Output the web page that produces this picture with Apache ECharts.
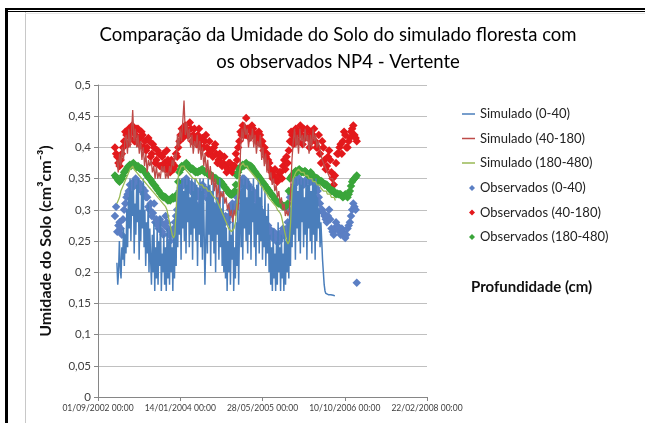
<!DOCTYPE html>
<html>
<head>
<meta charset="utf-8">
<script src="https://cdn.jsdelivr.net/npm/echarts@6/dist/echarts.min.js"></script>
<style>
  html, body { margin: 0; padding: 0; background: #fff; }
  #chart { width: 645px; height: 423px; }
</style>
</head>
<body>
<div id="chart"></div>
<script>
// datas em número serial (dias, estilo Excel): 37500 = 01/09/2002
const sim0040Start = 37615
const sim0040Step = 5
const simStart = 37615
const simStep = 8
const obsStart = 37603
const obsStep = 7

// simulado (modelo)
const sim0040 = [
  0.215, 0.18, 0.2, 0.25, 0.21, 0.19, 0.24, 0.22, 0.27, 0.21, 0.26, 0.23,
  0.3, 0.24, 0.32, 0.27, 0.35, 0.25, 0.33, 0.29, 0.35, 0.23, 0.31, 0.26, 0.34, 0.28, 0.35,
  0.22, 0.3, 0.25, 0.33, 0.27, 0.35, 0.24, 0.3, 0.21, 0.28, 0.23, 0.31, 0.2, 0.27,
  0.22, 0.18, 0.26, 0.2, 0.28, 0.17, 0.24, 0.19, 0.27, 0.18, 0.25, 0.21, 0.29, 0.17, 0.23, 0.2,
  0.26, 0.18, 0.24, 0.17, 0.27, 0.19, 0.25, 0.18, 0.28, 0.2, 0.24, 0.17, 0.26, 0.19, 0.29, 0.21,
  0.33, 0.24, 0.35, 0.26, 0.34, 0.22, 0.35, 0.27, 0.33, 0.25, 0.35, 0.23, 0.34, 0.28, 0.35, 0.24, 0.32, 0.26, 0.35, 0.22,
  0.33, 0.27, 0.35, 0.25, 0.34, 0.21, 0.31, 0.26, 0.35, 0.24, 0.33, 0.22, 0.35, 0.27, 0.18, 0.25, 0.32, 0.23, 0.35, 0.26,
  0.34, 0.21, 0.33, 0.25, 0.35, 0.23, 0.31, 0.2, 0.34, 0.26, 0.32, 0.22, 0.35, 0.24, 0.3, 0.21, 0.33, 0.2,
  0.29, 0.19, 0.27, 0.17, 0.25, 0.2, 0.3, 0.18, 0.26, 0.22, 0.31, 0.17, 0.24, 0.19, 0.28, 0.21, 0.32, 0.18, 0.27,
  0.33, 0.24, 0.35, 0.22, 0.34, 0.27, 0.35, 0.25, 0.32, 0.23, 0.35, 0.26, 0.34, 0.22, 0.33, 0.28, 0.35, 0.24, 0.31, 0.21,
  0.34, 0.26, 0.35, 0.23, 0.32, 0.25, 0.34, 0.22, 0.3, 0.24, 0.33, 0.21, 0.29, 0.23, 0.31, 0.2,
  0.26, 0.18, 0.24, 0.17, 0.27, 0.19, 0.23, 0.17, 0.25, 0.18, 0.28, 0.2, 0.24, 0.17, 0.26, 0.19, 0.23, 0.17,
  0.27, 0.18, 0.25, 0.2, 0.28, 0.19, 0.3, 0.21, 0.32,
  0.24, 0.35, 0.26, 0.34, 0.22, 0.35, 0.27, 0.33, 0.25, 0.35, 0.23, 0.34, 0.28, 0.35, 0.24, 0.32, 0.26, 0.35, 0.22, 0.34,
  0.27, 0.35, 0.25, 0.33, 0.23, 0.35, 0.26, 0.34, 0.22, 0.35, 0.25, 0.32, 0.27, 0.3, 0.24,
  0.28, 0.25, 0.22, 0.2, 0.18, 0.17, 0.166, 0.165, 0.164, 0.164, 0.163, 0.163, 0.164, 0.163, 0.162, 0.163, 0.163, 0.162
]
const sim40180 = [
  0.38, 0.36, 0.39, 0.37, 0.4, 0.38, 0.41,
  0.42, 0.39, 0.43, 0.4, 0.42, 0.46, 0.41, 0.43, 0.4, 0.42, 0.39, 0.41, 0.38, 0.4, 0.37, 0.39, 0.36, 0.38, 0.37,
  0.38, 0.36, 0.37, 0.35, 0.37, 0.35, 0.36, 0.35, 0.37, 0.36, 0.37, 0.35, 0.36, 0.35, 0.37, 0.36, 0.38, 0.37, 0.39, 0.38,
  0.42, 0.4, 0.43, 0.41, 0.44, 0.475, 0.42, 0.44, 0.41, 0.43, 0.4, 0.42, 0.39, 0.41, 0.4, 0.42, 0.39, 0.41,
  0.38, 0.4, 0.37, 0.39, 0.36, 0.38, 0.35, 0.37, 0.34, 0.36, 0.33, 0.35, 0.32, 0.34, 0.31, 0.33, 0.32, 0.33, 0.31,
  0.32, 0.3, 0.31, 0.29, 0.3, 0.28, 0.3, 0.29, 0.31, 0.3, 0.33,
  0.4, 0.43, 0.41, 0.44, 0.42, 0.43, 0.4, 0.42, 0.41, 0.43, 0.4, 0.42, 0.39, 0.41, 0.4, 0.42, 0.38, 0.4, 0.37, 0.39, 0.36, 0.38, 0.35,
  0.36, 0.34, 0.35, 0.33, 0.34, 0.32, 0.33, 0.31, 0.32, 0.3, 0.31, 0.29, 0.3, 0.29, 0.3, 0.33, 0.38,
  0.41, 0.43, 0.4, 0.42, 0.39, 0.43, 0.41, 0.42, 0.4, 0.43, 0.41, 0.42, 0.39, 0.42, 0.4, 0.43, 0.41, 0.42, 0.4, 0.41, 0.4,
  0.39, 0.38, 0.38, 0.37, 0.37, 0.36, 0.36, 0.35, 0.35, 0.35, 0.34, 0.34
]
const sim180480 = [
  0.31, 0.315, 0.32, 0.33, 0.335, 0.34, 0.345,
  0.35, 0.355, 0.36, 0.365, 0.365, 0.37, 0.365, 0.365, 0.36, 0.36, 0.355, 0.355, 0.35, 0.35, 0.345, 0.345, 0.34, 0.34, 0.335,
  0.335, 0.33, 0.33, 0.325, 0.325, 0.32, 0.32, 0.315, 0.315, 0.31, 0.31, 0.305, 0.3, 0.29, 0.28, 0.27, 0.26, 0.255, 0.26, 0.3,
  0.34, 0.36, 0.365, 0.37, 0.37, 0.37, 0.365, 0.365, 0.36, 0.36, 0.355, 0.355, 0.35, 0.35, 0.35, 0.345, 0.345, 0.34,
  0.34, 0.34, 0.335, 0.335, 0.335, 0.33, 0.33, 0.33, 0.325, 0.325, 0.32, 0.32, 0.315, 0.31, 0.305, 0.3, 0.295, 0.29, 0.285,
  0.28, 0.275, 0.27, 0.27, 0.265, 0.265, 0.27, 0.28, 0.3, 0.33, 0.36,
  0.37, 0.37, 0.375, 0.37, 0.37, 0.37, 0.365, 0.365, 0.36, 0.36, 0.355, 0.355, 0.35, 0.35, 0.345, 0.34, 0.34, 0.335, 0.33, 0.33, 0.325, 0.32, 0.32,
  0.315, 0.315, 0.31, 0.31, 0.305, 0.3, 0.3, 0.295, 0.29, 0.28, 0.27, 0.26, 0.25, 0.245, 0.25, 0.28, 0.33,
  0.35, 0.355, 0.36, 0.36, 0.365, 0.365, 0.36, 0.36, 0.36, 0.355, 0.355, 0.355, 0.35, 0.35, 0.35, 0.345, 0.345, 0.345, 0.34, 0.34, 0.34,
  0.335, 0.335, 0.33, 0.33, 0.33, 0.325, 0.325, 0.325, 0.32, 0.32, 0.32, 0.315
]

// observados
const obs0040 = [
  0.29, 0.305, 0.265, 0.275, 0.28, 0.27, 0.26, 0.285,
  0.3, 0.31, 0.32, 0.325, 0.33, 0.34, 0.34, 0.335, 0.345, 0.34, 0.35, 0.34, 0.345, 0.335, 0.34, 0.33, 0.335, 0.325, 0.33, 0.32,
  0.32, 0.305, 0.3, 0.31, 0.29, 0.295, 0.31, 0.28, 0.285, 0.275, 0.27, 0.285,
  0.28, 0.265, 0.26, 0.275, 0.29, 0.28, 0.27, 0.26, 0.25, 0.265, 0.26, 0.27, 0.28, 0.29, 0.3, 0.315,
  0.33, 0.335, 0.34, 0.345, 0.345, 0.34, 0.35, 0.345, 0.34, 0.335, 0.33, 0.34, 0.335, 0.325, 0.32, 0.33, 0.33, 0.32, 0.31, 0.33,
  0.34, 0.33, 0.335, 0.32, 0.33, 0.325, 0.32, 0.31, 0.31, 0.305, 0.3, 0.295, 0.29, 0.3, 0.3, 0.285, 0.28, 0.275,
  0.27, 0.28, 0.29, 0.285, 0.28, 0.29, 0.3, 0.305, 0.31, 0.3, 0.3, 0.31, 0.32, 0.325,
  0.33, 0.34, 0.345, 0.35, 0.35, 0.345, 0.345, 0.34, 0.34, 0.335, 0.335, 0.33, 0.33, 0.325, 0.32, 0.315, 0.31, 0.305, 0.3, 0.295, 0.29, 0.285, 0.28, 0.275, 0.27, 0.275,
  0.27, 0.265, 0.26, 0.255, 0.265, 0.26, 0.25, 0.255, 0.26, 0.25, 0.255, 0.265, 0.27, 0.265, 0.26, 0.27, 0.28, 0.3,
  0.32, 0.325, 0.33, 0.335, 0.34, 0.345, 0.345, 0.35, 0.35, 0.345, 0.345, 0.34, 0.34, 0.345, 0.345, 0.35, 0.35, 0.345, 0.345, 0.35, 0.35, 0.345, 0.34, 0.335,
  0.33, 0.32, 0.31, 0.3, 0.3, 0.295, 0.29, 0.285, 0.28, 0.29, 0.3, 0.285, 0.27, 0.265, 0.26, 0.27, 0.28, 0.275, 0.27, 0.265,
  0.26, 0.27, 0.265, 0.26, 0.255, 0.26, 0.27, 0.275, 0.28, 0.29, 0.3, 0.31, 0.305, 0.3, 0.183
]
const obs40180 = [
  0.4, 0.39, 0.385, 0.375, 0.37, 0.38, 0.39, 0.4,
  0.41, 0.425, 0.42, 0.405, 0.43, 0.415, 0.425, 0.435, 0.43, 0.41, 0.42, 0.43, 0.43, 0.405, 0.415, 0.425, 0.42, 0.4, 0.41, 0.395,
  0.4, 0.415, 0.41, 0.385, 0.39, 0.405, 0.4, 0.375, 0.38, 0.395, 0.39, 0.37,
  0.37, 0.385, 0.39, 0.375, 0.365, 0.395, 0.38, 0.37, 0.36, 0.38, 0.375, 0.365, 0.37, 0.39, 0.385, 0.4,
  0.41, 0.42, 0.43, 0.415, 0.425, 0.435, 0.43, 0.42, 0.42, 0.44, 0.43, 0.41, 0.42, 0.43, 0.415, 0.405, 0.42, 0.43, 0.41, 0.4,
  0.415, 0.4, 0.41, 0.42, 0.4, 0.39, 0.41, 0.395, 0.395, 0.385, 0.4, 0.405, 0.39, 0.375, 0.38, 0.39, 0.385, 0.37,
  0.375, 0.385, 0.37, 0.36, 0.365, 0.375, 0.375, 0.365, 0.36, 0.37, 0.37, 0.39, 0.38, 0.4,
  0.41, 0.425, 0.42, 0.435, 0.43, 0.42, 0.447, 0.43, 0.43, 0.415, 0.425, 0.435, 0.43, 0.42, 0.42, 0.41, 0.415, 0.425, 0.42, 0.405, 0.41, 0.395, 0.4, 0.385, 0.39, 0.38,
  0.375, 0.365, 0.36, 0.35, 0.355, 0.365, 0.35, 0.345, 0.355, 0.36, 0.36, 0.35, 0.37, 0.38, 0.365, 0.385, 0.375, 0.395,
  0.41, 0.425, 0.42, 0.405, 0.415, 0.43, 0.42, 0.41, 0.425, 0.435, 0.42, 0.405, 0.43, 0.415, 0.42, 0.43, 0.415, 0.4, 0.425, 0.41, 0.42, 0.43, 0.41, 0.4,
  0.4, 0.42, 0.39, 0.375, 0.41, 0.4, 0.38, 0.365, 0.37, 0.385, 0.395, 0.38, 0.36, 0.35, 0.34, 0.355, 0.375, 0.39, 0.39, 0.4,
  0.405, 0.39, 0.41, 0.425, 0.42, 0.4, 0.4, 0.41, 0.415, 0.425, 0.43, 0.435, 0.42, 0.415, 0.41
]
const obs180480 = [
  0.355, 0.352, 0.35, 0.347, 0.345, 0.348, 0.35, 0.355,
  0.36, 0.362, 0.365, 0.368, 0.37, 0.372, 0.37, 0.373, 0.375, 0.372, 0.37, 0.368, 0.37, 0.367, 0.365, 0.366, 0.365, 0.362, 0.36, 0.358,
  0.355, 0.352, 0.35, 0.348, 0.345, 0.342, 0.34, 0.338, 0.335, 0.332, 0.33, 0.327,
  0.325, 0.322, 0.32, 0.321, 0.32, 0.317, 0.315, 0.316, 0.315, 0.318, 0.32, 0.318, 0.32, 0.322, 0.325, 0.345,
  0.36, 0.365, 0.37, 0.368, 0.37, 0.373, 0.375, 0.372, 0.37, 0.367, 0.365, 0.366, 0.365, 0.362, 0.36, 0.361, 0.36, 0.362, 0.362, 0.364,
  0.365, 0.362, 0.36, 0.361, 0.36, 0.357, 0.355, 0.356, 0.355, 0.352, 0.35, 0.351, 0.35, 0.347, 0.345, 0.346, 0.345, 0.342,
  0.34, 0.337, 0.335, 0.332, 0.33, 0.327, 0.325, 0.324, 0.325, 0.327, 0.33, 0.34, 0.355, 0.36,
  0.365, 0.368, 0.37, 0.372, 0.37, 0.373, 0.375, 0.372, 0.37, 0.371, 0.37, 0.368, 0.365, 0.362, 0.36, 0.357, 0.355, 0.352, 0.35, 0.347, 0.345, 0.342, 0.34, 0.337, 0.335, 0.332,
  0.33, 0.327, 0.325, 0.322, 0.32, 0.317, 0.315, 0.312, 0.31, 0.311, 0.31, 0.307, 0.305, 0.306, 0.305, 0.307, 0.31, 0.33,
  0.35, 0.352, 0.355, 0.357, 0.36, 0.362, 0.36, 0.363, 0.365, 0.363, 0.36, 0.361, 0.36, 0.362, 0.36, 0.358, 0.355, 0.357, 0.36, 0.357, 0.355, 0.352, 0.35, 0.351,
  0.35, 0.347, 0.345, 0.346, 0.345, 0.342, 0.34, 0.341, 0.34, 0.337, 0.335, 0.332, 0.33, 0.331, 0.33, 0.327, 0.325, 0.326, 0.325, 0.325,
  0.325, 0.322, 0.32, 0.322, 0.325, 0.322, 0.32, 0.325, 0.33, 0.338, 0.345, 0.348, 0.35, 0.352, 0.355
]

// eixos
const xTicks = [37500, 38000, 38500, 39000, 39500]
const yTicks = [0, 0.05, 0.1, 0.15, 0.2, 0.25, 0.3, 0.35, 0.4, 0.45, 0.5]

const toPairs = (start, step, values) => values.map((v, i) => [start + i * step, v])

const serialToLabel = (serial) => {
  const d = new Date(Date.UTC(1899, 11, 30) + Math.round(serial) * 86400000)
  const pad = (n) => String(n).padStart(2, '0')
  return `${pad(d.getUTCDate())}/${pad(d.getUTCMonth() + 1)}/${d.getUTCFullYear()} 00:00`
}

const chart = echarts.init(document.getElementById('chart'))

const font = 'Lato, "Liberation Sans", sans-serif'
const legendText = { fontFamily: font, fontSize: 13, color: '#222', lineHeight: 14 }

const option = {
  animation: false,
  backgroundColor: '#fff',
  title: {
    text: 'Comparação da Umidade do Solo do simulado floresta com\nos observados NP4 - Vertente',
    left: 333,
    top: 17,
    textAlign: 'center',
    textStyle: {
      fontFamily: font,
      fontSize: 18.5,
      fontWeight: 'normal',
      color: '#000',
      lineHeight: 27
    }
  },
  legend: [
    {
      data: ['Simulado (0-40)', 'Simulado (40-180)', 'Simulado (180-480)'],
      orient: 'vertical',
      left: 457,
      top: 102,
      icon: 'rect',
      itemWidth: 13,
      itemHeight: 1.5,
      itemGap: 10.5,
      selectedMode: false,
      textStyle: legendText
    },
    {
      data: ['Observados (0-40)', 'Observados (40-180)', 'Observados (180-480)'],
      orient: 'vertical',
      left: 464,
      top: 176,
      icon: 'diamond',
      itemWidth: 6,
      itemHeight: 6,
      itemGap: 10.5,
      selectedMode: false,
      textStyle: legendText
    }
  ],
  grid: {
    left: 98,
    right: 218,
    top: 85,
    bottom: 26
  },
  xAxis: {
    type: 'value',
    min: xTicks[0],
    max: xTicks[xTicks.length - 1],
    interval: 500,
    axisLine: { lineStyle: { color: '#868686' } },
    axisTick: { show: true, length: 4, lineStyle: { color: '#868686' } },
    splitLine: { show: false },
    axisLabel: {
      fontFamily: font,
      fontSize: 8.5,
      color: '#404040',
      margin: 7,
      formatter: (v) => serialToLabel(v)
    }
  },
  yAxis: {
    type: 'value',
    min: yTicks[0],
    max: yTicks[yTicks.length - 1],
    interval: 0.05,
    name: 'Umidade do Solo (cm³cm⁻³)',
    nameLocation: 'middle',
    nameGap: 44,
    nameTextStyle: { fontFamily: font, fontSize: 16, fontWeight: 'bold', color: '#111' },
    axisLine: { show: true, lineStyle: { color: '#868686' } },
    axisTick: { show: true, length: 4, lineStyle: { color: '#868686' } },
    splitLine: { lineStyle: { color: '#c0c0c0' } },
    axisLabel: {
      fontFamily: font,
      fontSize: 11.5,
      color: '#404040',
      margin: 7,
      formatter: (v) => String(+v.toFixed(2)).replace('.', ',')
    }
  },
  graphic: [
    { type: 'rect', silent: true, shape: { x: 5, y: 8, width: 3, height: 415 }, style: { fill: '#000' } },
    { type: 'rect', silent: true, shape: { x: 5, y: 8, width: 640, height: 2 }, style: { fill: '#000' } },
    { type: 'rect', silent: true, shape: { x: 8, y: 11, width: 637, height: 1 }, style: { fill: '#000' } },
    { type: 'rect', silent: true, shape: { x: 25, y: 12, width: 1, height: 411 }, style: { fill: '#c8c8c8' } },
    { type: 'rect', silent: true, shape: { x: 25, y: 13, width: 620, height: 1 }, style: { fill: '#e6e6e6' } },
    {
      type: 'text',
      left: 471,
      top: 280,
      style: {
        text: 'Profundidade (cm)',
        font: 'bold 15px ' + font,
        fill: '#111'
      }
    }
  ],
  series: [
    {
      name: 'Simulado (0-40)',
      type: 'line',
      showSymbol: false,
      data: toPairs(sim0040Start, sim0040Step, sim0040),
      lineStyle: { color: '#4a7ebb', width: 1.5 },
      itemStyle: { color: '#4a7ebb' }
    },
    {
      name: 'Simulado (40-180)',
      type: 'line',
      showSymbol: false,
      data: toPairs(simStart, simStep, sim40180),
      lineStyle: { color: '#be4b48', width: 1.3 },
      itemStyle: { color: '#be4b48' }
    },
    {
      name: 'Simulado (180-480)',
      type: 'line',
      showSymbol: false,
      data: toPairs(simStart, simStep, sim180480),
      lineStyle: { color: '#98b954', width: 1.3 },
      itemStyle: { color: '#98b954' }
    },
    {
      name: 'Observados (0-40)',
      type: 'scatter',
      symbol: 'diamond',
      symbolSize: 8.5,
      data: toPairs(obsStart, obsStep, obs0040),
      itemStyle: { color: '#5b7fc4', opacity: 1 }
    },
    {
      name: 'Observados (40-180)',
      type: 'scatter',
      symbol: 'diamond',
      symbolSize: 8.5,
      data: toPairs(obsStart, obsStep, obs40180),
      itemStyle: { color: '#e3191c', opacity: 1 }
    },
    {
      name: 'Observados (180-480)',
      type: 'scatter',
      symbol: 'diamond',
      symbolSize: 8.5,
      data: toPairs(obsStart, obsStep, obs180480),
      itemStyle: { color: '#3aa53a', opacity: 1 }
    }
  ]
}

chart.setOption(option)
</script>
</body>
</html>
